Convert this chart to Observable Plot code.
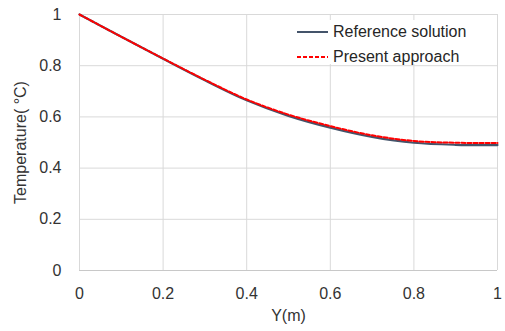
<!DOCTYPE html>
<html>
<head>
<meta charset="utf-8">
<script src="https://cdn.jsdelivr.net/npm/d3@7"></script>
<script src="https://cdn.jsdelivr.net/npm/@observablehq/plot@0.6"></script>
<style>
  html, body { margin: 0; padding: 0; background: #fff; }
  #wrap { position: relative; width: 505px; height: 331px; font-family: "Liberation Sans", Arial, sans-serif; }
  #legend { position: absolute; left: 287px; top: 20px; width: 203px; height: 44px; background: #fff; color: #262626; font-size: 16px; }
  .row { position: absolute; left: 10px; height: 20px; display: flex; align-items: center; }
  .row svg { margin-right: 5px; }
</style>
</head>
<body>
<div id="wrap"><div id="legend"></div></div>
<script>
// Data
const positions = [0, 0.1, 0.2, 0.3, 0.4, 0.5, 0.6, 0.7, 0.8, 0.9, 1.0];
const referenceSolution = [1.0, 0.913, 0.827, 0.743, 0.665, 0.604, 0.558, 0.522, 0.499, 0.491, 0.490];
const presentApproach   = [1.0, 0.913, 0.828, 0.745, 0.668, 0.609, 0.564, 0.528, 0.506, 0.499, 0.498];
const seriesNames = ["Reference solution", "Present approach"];
const xTicks = [0, 0.2, 0.4, 0.6, 0.8, 1];
const yTicks = [0, 0.2, 0.4, 0.6, 0.8, 1];
const xTitle = "Y(m)";
const yTitle = "Temperature( °C)";

const seriesColors = ["#44546a", "#ff0000"];
const seriesDash = [null, "4,2"];

const rows = [];
positions.forEach((p, i) => {
  rows.push({pos: p, temp: referenceSolution[i], series: seriesNames[0]});
});
positions.forEach((p, i) => {
  rows.push({pos: p, temp: presentApproach[i], series: seriesNames[1]});
});

const fmt = d => String(d);

const chart = Plot.plot({
  width: 505,
  height: 331,
  marginLeft: 79,
  marginRight: 8,
  marginTop: 14,
  marginBottom: 61,
  x: {domain: [0, 1]},
  y: {domain: [0, 1]},
  style: {fontFamily: "'Liberation Sans', Arial, sans-serif", fontSize: "16px", color: "#333", background: "#fff", overflow: "visible"},
  marks: [
    Plot.gridX(xTicks, {stroke: "#d9d9d9", strokeOpacity: 1, strokeWidth: 1}),
    Plot.gridY(yTicks, {stroke: "#d9d9d9", strokeOpacity: 1, strokeWidth: 1}),
    Plot.ruleY([0], {stroke: "#c8c8c8", strokeWidth: 1}),
    Plot.axisX(xTicks, {tickSize: 0, tickPadding: 17, tickFormat: fmt, fontSize: 16,
      label: xTitle, labelAnchor: "center", labelArrow: "none", labelOffset: 50}),
    Plot.axisY(yTicks, {tickSize: 0, tickPadding: 18, tickFormat: fmt, fontSize: 16,
      label: yTitle, labelAnchor: "center", labelArrow: "none", labelOffset: 65}),
    Plot.line(rows.filter(d => d.series === seriesNames[0]), {x: "pos", y: "temp", curve: "catmull-rom", stroke: seriesColors[0], strokeWidth: 2.2}),
    Plot.line(rows.filter(d => d.series === seriesNames[1]), {x: "pos", y: "temp", curve: "catmull-rom", stroke: seriesColors[1], strokeWidth: 2, strokeDasharray: seriesDash[1]})
  ]
});
document.getElementById("wrap").prepend(chart);

const legend = document.getElementById("legend");
seriesNames.forEach((name, i) => {
  const row = document.createElement("div");
  row.className = "row";
  row.style.top = (i === 0 ? 2 : 27) + "px";
  const dash = seriesDash[i] ? `stroke-dasharray="${seriesDash[i]}"` : "";
  row.innerHTML = `<svg width="31" height="6"><line x1="0" x2="31" y1="3" y2="3" stroke="${seriesColors[i]}" stroke-width="2" ${dash}/></svg><span>${name}</span>`;
  legend.appendChild(row);
});
</script>
</body>
</html>
